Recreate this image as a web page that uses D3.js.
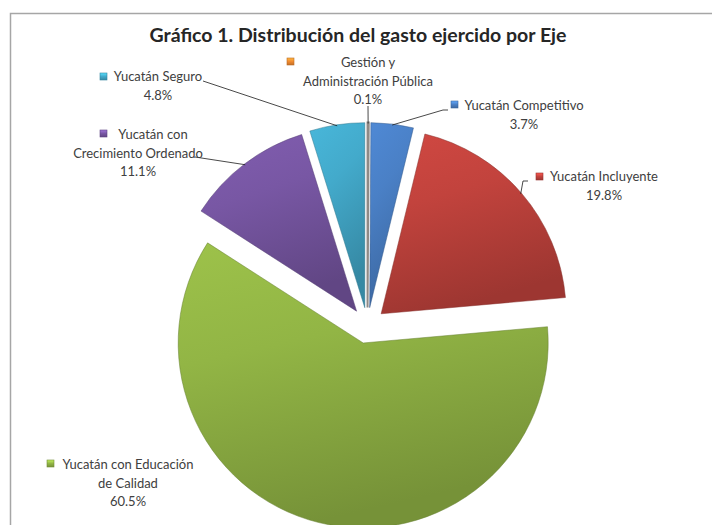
<!DOCTYPE html>
<html>
<head>
<meta charset="utf-8">
<script src="https://cdn.jsdelivr.net/npm/d3@7"></script>
<style>
  html, body { margin: 0; padding: 0; background: #fff; }
  svg { display: block; }
  text { font-family: Lato, "Liberation Sans", sans-serif; }
</style>
</head>
<body>
<svg id="chart" width="712" height="525"></svg>
<script>
// Distribución del gasto ejercido por Eje (porcentaje del total)
const categories = [
  "Gestión y Administración Pública",
  "Yucatán Competitivo",
  "Yucatán Incluyente",
  "Yucatán con Educación de Calidad",
  "Yucatán con Crecimiento Ordenado",
  "Yucatán Seguro"
];
const values = [0.1, 3.7, 19.8, 60.5, 11.1, 4.8];
const labelLines = [
  ["Gestión y", "Administración Pública"],
  ["Yucatán Competitivo"],
  ["Yucatán Incluyente"],
  ["Yucatán con Educación", "de Calidad"],
  ["Yucatán con", "Crecimiento Ordenado"],
  ["Yucatán Seguro"]
];
const colors = ["#f08a30", "#4a80c6", "#c2433d", "#92b545", "#7857a4", "#43aacb"];
const title = "Gráfico 1. Distribución del gasto ejercido por Eje";

// label placement: centre of the text block, first baseline, key square position,
// shift of the first line (room for the key), leader bends
const labelLayout = [
  { cx: 368, y: 67,  kx: 287, ky: 58,  dx0: 0,  leader: [[368, 106]] },
  { cx: 524, y: 110, kx: 451, ky: 101, dx0: 0,  leader: [[443, 110], [448, 110]] },
  { cx: 604, y: 181, kx: 536, ky: 173, dx0: 0,  leader: [[523, 181], [528, 181]] },
  { cx: 128, y: 469, kx: 47,  ky: 460, dx0: 0,  leader: null },
  { cx: 138, y: 139, kx: 100, ky: 130, dx0: 15, leader: [[195, 157]] },
  { cx: 158, y: 81,  kx: 100, ky: 73,  dx0: 0,  leader: [[203, 81]] }
];

const W = 712, H = 525;
const cx = 367.5, cy = 325.5, R = 185, explode = 18;

const svg = d3.select("#chart");
const defs = svg.append("defs");

// chart area frame
svg.append("rect")
  .attr("x", 10.5).attr("y", 13.5)
  .attr("width", W + 20).attr("height", H + 20)
  .attr("fill", "#fff")
  .attr("stroke", "#a6a6a6").attr("stroke-width", 1.5);

svg.append("text")
  .attr("x", 358).attr("y", 42)
  .attr("text-anchor", "middle")
  .attr("font-size", 19.5).attr("font-weight", 700)
  .attr("fill", "#262626")
  .text(title);

// shaded fills for slices and key squares
colors.forEach((c, i) => {
  const base = d3.rgb(c);
  const g = defs.append("linearGradient")
    .attr("id", "sl" + i).attr("x1", 0).attr("y1", 0).attr("x2", 0.3).attr("y2", 1);
  g.append("stop").attr("offset", 0).attr("stop-color", base.brighter(0.2));
  g.append("stop").attr("offset", 0.4).attr("stop-color", base);
  g.append("stop").attr("offset", 1).attr("stop-color", base.darker(0.6));
  const k = defs.append("linearGradient")
    .attr("id", "key" + i).attr("x1", 0).attr("y1", 0).attr("x2", 0).attr("y2", 1);
  k.append("stop").attr("offset", 0).attr("stop-color", base.brighter(0.8));
  k.append("stop").attr("offset", 0.5).attr("stop-color", base);
  k.append("stop").attr("offset", 1).attr("stop-color", base.darker(0.6));
});

const pie = d3.pie().sort(null).value(d => d).startAngle(0).endAngle(2 * Math.PI);
const arcs = pie(values);
const arc = d3.arc().innerRadius(0).outerRadius(R);

const offset = a => {
  const m = (a.startAngle + a.endAngle) / 2;
  return [Math.sin(m) * explode, -Math.cos(m) * explode];
};

const slices = svg.append("g").attr("transform", `translate(${cx},${cy})`);
slices.selectAll("path")
  .data(arcs)
  .join("path")
  .attr("transform", d => `translate(${offset(d)})`)
  .attr("d", arc)
  .attr("fill", (d, i) => d.value < 0.5 ? "#9e9893" : `url(#sl${i})`)
  .attr("stroke", (d, i) => d.value < 0.5 ? "#8f8a86" : d3.rgb(colors[i]).darker(1))
  .attr("stroke-opacity", (d) => d.value < 0.5 ? 1 : 0.5)
  .attr("stroke-width", (d) => d.value < 0.5 ? 2 : 1);

// leader lines and labels
const fmt = v => d3.format(".1f")(v) + "%";
const labels = svg.append("g").attr("fill", "#404040").attr("font-size", 13);

arcs.forEach((a, i) => {
  const L = labelLayout[i];
  if (L.leader) {
    const m = (a.startAngle + a.endAngle) / 2;
    const [ox, oy] = offset(a);
    const end = [cx + ox + Math.sin(m) * (R - 1), cy + oy - Math.cos(m) * (R - 1)];
    const pts = [end].concat(L.leader);
    labels.append("path")
      .attr("d", d3.line()(pts))
      .attr("fill", "none")
      .attr("stroke", "#1a1a1a").attr("stroke-width", 0.8);
  }
  labels.append("rect")
    .attr("x", L.kx).attr("y", L.ky).attr("width", 7).attr("height", 7)
    .attr("fill", `url(#key${i})`)
    .attr("stroke", d3.rgb(colors[i]).darker(0.7)).attr("stroke-width", 0.6);
  const lines = labelLines[i].concat([fmt(values[i])]);
  lines.forEach((t, j) => {
    labels.append("text")
      .attr("x", L.cx + (j === 0 ? L.dx0 : 0)).attr("y", L.y + j * 18.5)
      .attr("text-anchor", "middle")
      .text(t);
  });
});
</script>
</body>
</html>
